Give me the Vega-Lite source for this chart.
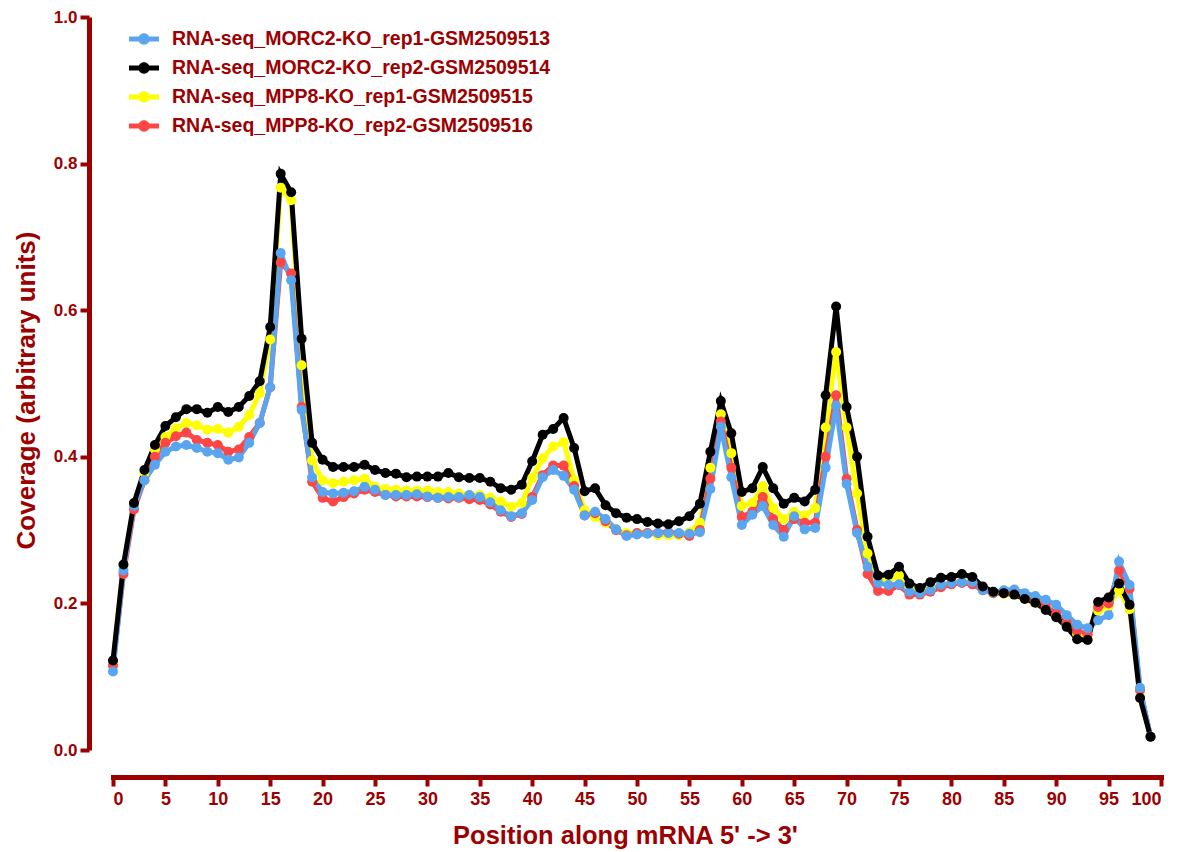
{
  "$schema": "https://vega.github.io/schema/vega-lite/v6.json",
  "width": 1048,
  "height": 733,
  "autosize": {"type": "none"},
  "padding": {"left": 113, "top": 17, "right": 17, "bottom": 102},
  "background": "white",
  "config": {"view": {"stroke": null}},
  "data": {"values": [
    {"x":0,"m1":0.107,"m2":0.122,"p1":0.118,"p2":0.115},
    {"x":1,"m1":0.245,"m2":0.253,"p1":0.250,"p2":0.240},
    {"x":2,"m1":0.333,"m2":0.337,"p1":0.335,"p2":0.328},
    {"x":3,"m1":0.368,"m2":0.382,"p1":0.378,"p2":0.368},
    {"x":4,"m1":0.389,"m2":0.416,"p1":0.410,"p2":0.400},
    {"x":5,"m1":0.407,"m2":0.442,"p1":0.427,"p2":0.419},
    {"x":6,"m1":0.414,"m2":0.454,"p1":0.439,"p2":0.428},
    {"x":7,"m1":0.416,"m2":0.465,"p1":0.446,"p2":0.433},
    {"x":8,"m1":0.412,"m2":0.465,"p1":0.443,"p2":0.423},
    {"x":9,"m1":0.407,"m2":0.460,"p1":0.437,"p2":0.419},
    {"x":10,"m1":0.405,"m2":0.468,"p1":0.438,"p2":0.416},
    {"x":11,"m1":0.396,"m2":0.461,"p1":0.433,"p2":0.407},
    {"x":12,"m1":0.399,"m2":0.468,"p1":0.441,"p2":0.410},
    {"x":13,"m1":0.419,"m2":0.483,"p1":0.457,"p2":0.427},
    {"x":14,"m1":0.446,"m2":0.503,"p1":0.487,"p2":0.446},
    {"x":15,"m1":0.495,"m2":0.577,"p1":0.560,"p2":0.495},
    {"x":16,"m1":0.678,"m2":0.786,"p1":0.767,"p2":0.665},
    {"x":17,"m1":0.641,"m2":0.761,"p1":0.750,"p2":0.650},
    {"x":18,"m1":0.464,"m2":0.561,"p1":0.525,"p2":0.468},
    {"x":19,"m1":0.372,"m2":0.419,"p1":0.395,"p2":0.366},
    {"x":20,"m1":0.352,"m2":0.396,"p1":0.368,"p2":0.344},
    {"x":21,"m1":0.350,"m2":0.386,"p1":0.364,"p2":0.339},
    {"x":22,"m1":0.351,"m2":0.386,"p1":0.366,"p2":0.345},
    {"x":23,"m1":0.353,"m2":0.386,"p1":0.368,"p2":0.350},
    {"x":24,"m1":0.359,"m2":0.389,"p1":0.370,"p2":0.355},
    {"x":25,"m1":0.355,"m2":0.382,"p1":0.359,"p2":0.352},
    {"x":26,"m1":0.348,"m2":0.378,"p1":0.356,"p2":0.348},
    {"x":27,"m1":0.348,"m2":0.377,"p1":0.355,"p2":0.346},
    {"x":28,"m1":0.348,"m2":0.372,"p1":0.354,"p2":0.346},
    {"x":29,"m1":0.349,"m2":0.373,"p1":0.354,"p2":0.346},
    {"x":30,"m1":0.346,"m2":0.373,"p1":0.354,"p2":0.345},
    {"x":31,"m1":0.344,"m2":0.373,"p1":0.352,"p2":0.344},
    {"x":32,"m1":0.345,"m2":0.378,"p1":0.352,"p2":0.343},
    {"x":33,"m1":0.345,"m2":0.372,"p1":0.350,"p2":0.344},
    {"x":34,"m1":0.348,"m2":0.371,"p1":0.348,"p2":0.342},
    {"x":35,"m1":0.345,"m2":0.371,"p1":0.348,"p2":0.341},
    {"x":36,"m1":0.338,"m2":0.366,"p1":0.344,"p2":0.335},
    {"x":37,"m1":0.327,"m2":0.357,"p1":0.339,"p2":0.325},
    {"x":38,"m1":0.319,"m2":0.355,"p1":0.332,"p2":0.318},
    {"x":39,"m1":0.323,"m2":0.362,"p1":0.337,"p2":0.322},
    {"x":40,"m1":0.341,"m2":0.394,"p1":0.371,"p2":0.345},
    {"x":41,"m1":0.372,"m2":0.430,"p1":0.398,"p2":0.375},
    {"x":42,"m1":0.382,"m2":0.438,"p1":0.414,"p2":0.388},
    {"x":43,"m1":0.374,"m2":0.453,"p1":0.420,"p2":0.388},
    {"x":44,"m1":0.355,"m2":0.412,"p1":0.368,"p2":0.360},
    {"x":45,"m1":0.320,"m2":0.353,"p1":0.327,"p2":0.320},
    {"x":46,"m1":0.325,"m2":0.357,"p1":0.318,"p2":0.323},
    {"x":47,"m1":0.315,"m2":0.334,"p1":0.310,"p2":0.312},
    {"x":48,"m1":0.301,"m2":0.323,"p1":0.301,"p2":0.300},
    {"x":49,"m1":0.292,"m2":0.317,"p1":0.296,"p2":0.293},
    {"x":50,"m1":0.294,"m2":0.315,"p1":0.296,"p2":0.296},
    {"x":51,"m1":0.295,"m2":0.311,"p1":0.296,"p2":0.296},
    {"x":52,"m1":0.296,"m2":0.309,"p1":0.293,"p2":0.296},
    {"x":53,"m1":0.296,"m2":0.308,"p1":0.293,"p2":0.297},
    {"x":54,"m1":0.296,"m2":0.312,"p1":0.293,"p2":0.295},
    {"x":55,"m1":0.295,"m2":0.319,"p1":0.297,"p2":0.292},
    {"x":56,"m1":0.297,"m2":0.336,"p1":0.310,"p2":0.300},
    {"x":57,"m1":0.356,"m2":0.407,"p1":0.385,"p2":0.370},
    {"x":58,"m1":0.441,"m2":0.476,"p1":0.458,"p2":0.448},
    {"x":59,"m1":0.372,"m2":0.432,"p1":0.405,"p2":0.385},
    {"x":60,"m1":0.307,"m2":0.352,"p1":0.333,"p2":0.318},
    {"x":61,"m1":0.321,"m2":0.357,"p1":0.337,"p2":0.325},
    {"x":62,"m1":0.333,"m2":0.386,"p1":0.360,"p2":0.345},
    {"x":63,"m1":0.307,"m2":0.357,"p1":0.330,"p2":0.315},
    {"x":64,"m1":0.291,"m2":0.336,"p1":0.315,"p2":0.300},
    {"x":65,"m1":0.319,"m2":0.344,"p1":0.325,"p2":0.315},
    {"x":66,"m1":0.301,"m2":0.339,"p1":0.320,"p2":0.310},
    {"x":67,"m1":0.303,"m2":0.355,"p1":0.330,"p2":0.310},
    {"x":68,"m1":0.385,"m2":0.484,"p1":0.440,"p2":0.400},
    {"x":69,"m1":0.470,"m2":0.605,"p1":0.543,"p2":0.484},
    {"x":70,"m1":0.363,"m2":0.468,"p1":0.440,"p2":0.370},
    {"x":71,"m1":0.296,"m2":0.400,"p1":0.350,"p2":0.300},
    {"x":72,"m1":0.250,"m2":0.291,"p1":0.268,"p2":0.240},
    {"x":73,"m1":0.228,"m2":0.238,"p1":0.232,"p2":0.217},
    {"x":74,"m1":0.225,"m2":0.239,"p1":0.232,"p2":0.217},
    {"x":75,"m1":0.226,"m2":0.250,"p1":0.238,"p2":0.225},
    {"x":76,"m1":0.216,"m2":0.227,"p1":0.222,"p2":0.212},
    {"x":77,"m1":0.214,"m2":0.221,"p1":0.216,"p2":0.212},
    {"x":78,"m1":0.218,"m2":0.229,"p1":0.220,"p2":0.216},
    {"x":79,"m1":0.225,"m2":0.235,"p1":0.224,"p2":0.222},
    {"x":80,"m1":0.228,"m2":0.236,"p1":0.228,"p2":0.226},
    {"x":81,"m1":0.229,"m2":0.240,"p1":0.230,"p2":0.228},
    {"x":82,"m1":0.229,"m2":0.236,"p1":0.228,"p2":0.226},
    {"x":83,"m1":0.218,"m2":0.223,"p1":0.220,"p2":0.218},
    {"x":84,"m1":0.215,"m2":0.216,"p1":0.214,"p2":0.214},
    {"x":85,"m1":0.218,"m2":0.214,"p1":0.213,"p2":0.214},
    {"x":86,"m1":0.219,"m2":0.212,"p1":0.212,"p2":0.214},
    {"x":87,"m1":0.214,"m2":0.206,"p1":0.206,"p2":0.208},
    {"x":88,"m1":0.210,"m2":0.201,"p1":0.201,"p2":0.204},
    {"x":89,"m1":0.205,"m2":0.191,"p1":0.193,"p2":0.196},
    {"x":90,"m1":0.198,"m2":0.181,"p1":0.183,"p2":0.186},
    {"x":91,"m1":0.184,"m2":0.168,"p1":0.171,"p2":0.174},
    {"x":92,"m1":0.171,"m2":0.151,"p1":0.158,"p2":0.162},
    {"x":93,"m1":0.166,"m2":0.150,"p1":0.155,"p2":0.158},
    {"x":94,"m1":0.177,"m2":0.202,"p1":0.190,"p2":0.195},
    {"x":95,"m1":0.184,"m2":0.208,"p1":0.196,"p2":0.200},
    {"x":96,"m1":0.257,"m2":0.227,"p1":0.218,"p2":0.245},
    {"x":97,"m1":0.225,"m2":0.198,"p1":0.192,"p2":0.220},
    {"x":98,"m1":0.085,"m2":0.071,"p1":0.080,"p2":0.082},
    {"x":99,"m1":0.018,"m2":0.018,"p1":0.018,"p2":0.018}
  ]},
  "transform": [
    {"fold": ["p1", "p2", "m1", "m2"], "as": ["series", "value"]}
  ],
  "encoding": {
    "x": {
      "field": "x", "type": "quantitative",
      "scale": {"domain": [0, 100], "nice": false, "zero": false},
      "axis": {
        "title": "Position along mRNA 5' -> 3'",
        "values": [0,5,10,15,20,25,30,35,40,45,50,55,60,65,70,75,80,85,90,95,100],
        "offset": 27, "grid": false,
        "domainColor": "#9c0000", "domainWidth": 5, "domainCap": "square",
        "tickColor": "#9c0000", "tickWidth": 4, "tickSize": 9,
        "labelColor": "#9c0000", "labelFont": "Liberation Sans", "labelFontWeight": "bold", "labelFontSize": 18, "labelPadding": 4,
        "titleColor": "#9c0000", "titleFont": "Liberation Sans", "titleFontWeight": "bold", "titleFontSize": 25.5, "titlePadding": 15,
        "titleX": 512
      }
    },
    "y": {
      "field": "value", "type": "quantitative",
      "scale": {"domain": [0, 1], "nice": false},
      "axis": {
        "title": "Coverage (arbitrary units)",
        "values": [0, 0.2, 0.4, 0.6, 0.8, 1.0], "format": ".1f",
        "offset": 24, "grid": false,
        "domainColor": "#9c0000", "domainWidth": 5,
        "tickColor": "#9c0000", "tickWidth": 4, "tickSize": 9,
        "labelColor": "#9c0000", "labelFont": "Liberation Sans", "labelFontWeight": "bold", "labelFontSize": 17, "labelPadding": 3,
        "titleColor": "#9c0000", "titleFont": "Liberation Sans", "titleFontWeight": "bold", "titleFontSize": 26, "titlePadding": 14,
        "titleY": 373
      }
    },
    "color": {
      "field": "series", "type": "nominal",
      "scale": {"domain": ["m1", "m2", "p1", "p2"], "range": ["#5aa5f0", "#000000", "#ffff00", "#ff4646"]},
      "legend": {
        "title": null, "orient": "none", "legendX": 16, "legendY": 7,
        "padding": 0, "rowPadding": 4,
        "symbolType": "M-1,-0.17H1V0.17H-1Z M-0.38,0A0.38,0.38 0 1,1 0.38,0A0.38,0.38 0 1,1 -0.38,0Z",
        "symbolSize": 900, "symbolStrokeWidth": 0,
        "labelOffset": 13, "labelColor": "#9c0000", "labelFont": "Liberation Sans", "labelFontWeight": "bold", "labelFontSize": 19.5, "labelLimit": 600,
        "labelExpr": "{'m1':'RNA-seq_MORC2-KO_rep1-GSM2509513','m2':'RNA-seq_MORC2-KO_rep2-GSM2509514','p1':'RNA-seq_MPP8-KO_rep1-GSM2509515','p2':'RNA-seq_MPP8-KO_rep2-GSM2509516'}[datum.label]",
        "encode": {"symbols": {"update": {"fill": {"scale": "color", "field": "value"}, "strokeWidth": {"value": 0}, "opacity": {"value": 1}}}}
      }
    }
  },
  "layer": [
    {"mark": {"type": "line", "strokeWidth": 5}},
    {"mark": {"type": "point", "filled": true, "size": 100, "opacity": 1}}
  ]
}
